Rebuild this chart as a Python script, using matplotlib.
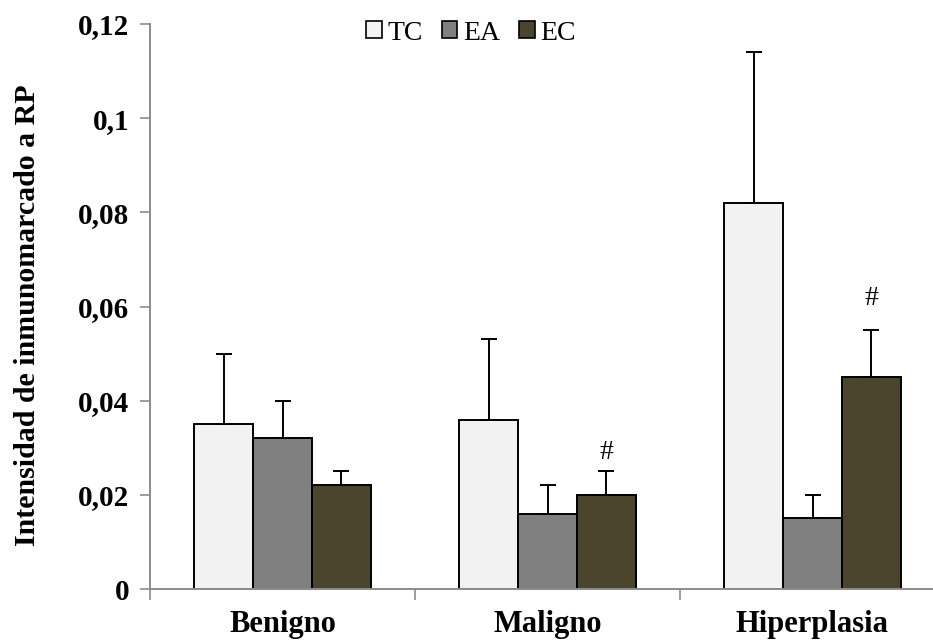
import matplotlib
matplotlib.use("Agg")
import matplotlib.pyplot as plt
from matplotlib.patches import Patch
import numpy as np

categories = ["Benigno", "Maligno", "Hiperplasia"]
series = ["TC", "EA", "EC"]
means = {
    "TC": [0.035, 0.036, 0.082],
    "EA": [0.032, 0.016, 0.015],
    "EC": [0.022, 0.020, 0.045],
}
errors = {
    "TC": [0.015, 0.017, 0.032],
    "EA": [0.008, 0.006, 0.005],
    "EC": [0.003, 0.005, 0.010],
}
colors = {"TC": "#f2f2f2", "EA": "#808080", "EC": "#4a452c"}
y_ticks = [0, 0.02, 0.04, 0.06, 0.08, 0.1, 0.12]
y_tick_labels = ["0", "0,02", "0,04", "0,06", "0,08", "0,1", "0,12"]
# significance marks: (category index, series name, label height)
sig_marks = [(1, "EC", 0.0289), (2, "EC", 0.0618)]

serif = ["Liberation Serif", "DejaVu Serif"]
plt.rcParams["font.family"] = serif

fig = plt.figure(figsize=(9.33, 6.42), dpi=100)
ax = fig.add_axes([150 / 933, 53 / 642, 795 / 933, 565 / 642])

x = np.arange(len(categories))
width = 0.222
offsets = {"TC": -width, "EA": 0.0, "EC": width}
for s in series:
    ax.bar(x + offsets[s], means[s], width=width, color=colors[s],
           edgecolor="black", linewidth=1.4, zorder=2)
    ax.errorbar(x + offsets[s], means[s], yerr=[np.zeros(len(x)), errors[s]],
                fmt="none", ecolor="black", elinewidth=1.4, capsize=6,
                capthick=1.4, zorder=3)

for ci, s, yv in sig_marks:
    ax.text(x[ci] + offsets[s], yv, "#", ha="center", va="center",
            fontsize=20, family=serif)

ax.set_xlim(-0.5, len(categories) - 0.5)
ax.set_ylim(0, 0.12)
ax.set_yticks(y_ticks)
ax.set_yticklabels(y_tick_labels, fontsize=21, fontweight="bold")
ax.set_xticks(x)
ax.set_xticklabels(categories, fontsize=22, fontweight="bold")
ax.tick_params(axis="x", length=0, pad=15)
ax.set_xticks(np.arange(len(categories) + 1) - 0.5, minor=True)
ax.tick_params(axis="x", which="minor", length=8, width=1.2, color="#8c8c8c")
ax.tick_params(axis="y", length=7, width=1.2, color="#8c8c8c", pad=8)

for side in ["top", "right"]:
    ax.spines[side].set_visible(False)
for side in ["left", "bottom"]:
    ax.spines[side].set_color("#8c8c8c")
    ax.spines[side].set_linewidth(1.4)

ax.set_ylabel("Intensidad de inmunomarcado a RP", fontsize=21.5,
              fontweight="bold")
ax.yaxis.set_label_coords(-0.137, 0.485)

handles = [Patch(facecolor=colors[s], edgecolor="black", linewidth=1.2, label=s)
           for s in series]
fig.legend(handles=handles, loc="center", bbox_to_anchor=(471 / 933, 1 - 33 / 642),
           ncol=3, frameon=False, fontsize=20, handlelength=0.55,
           handleheight=0.55, handletextpad=0.2, columnspacing=0.7)

fig.savefig("out.png", dpi=100)
